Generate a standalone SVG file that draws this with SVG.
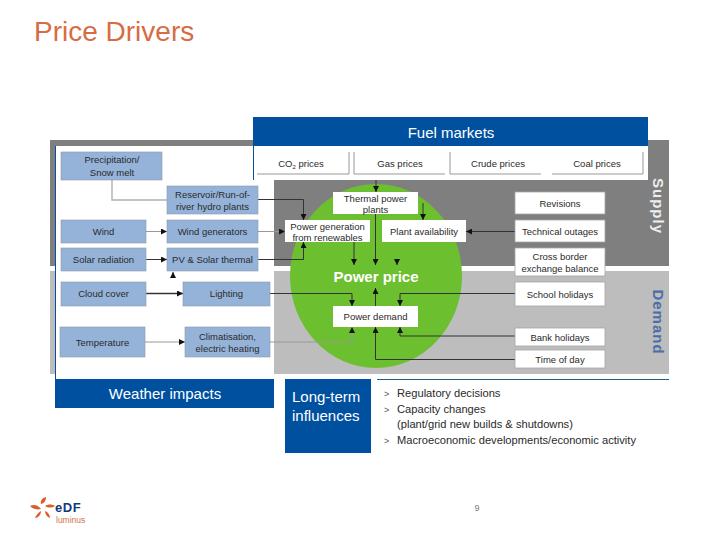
<svg xmlns="http://www.w3.org/2000/svg" width="720" height="540" viewBox="0 0 720 540">
<style>
text{font-family:"Liberation Sans",Arial,sans-serif;fill:#2a2a2a;font-size:9.5px;text-anchor:middle}
.b{fill:#95b3d9;stroke:#8c9aa8;stroke-width:.6}
.w{fill:#fff;stroke:#a6a6a6;stroke-width:.8}
.p{fill:#fff}
.c{fill:none;stroke:#333;stroke-width:1}
.g{fill:none;stroke:#b0b0b0;stroke-width:1.4}
.e{fill:none;stroke:#999;stroke-width:1}
.hd{fill:#fff;font-size:15px}
.li{font-size:11.15px;text-anchor:start}
.ch{font-size:9px;text-anchor:start;fill:#555}
</style>
<defs>
<marker id="a" markerUnits="userSpaceOnUse" markerWidth="6" markerHeight="6" refX="6" refY="3" orient="auto"><path d="M0 0L6 3L0 6z" fill="#111"/></marker>
</defs>
<rect width="720" height="540" fill="#fff"/>
<text id="title" x="34" y="41" style="font-size:28px;text-anchor:start;fill:#d76c44">Price Drivers</text>
<g id="backdrop">
<rect x="50" y="140" width="619" height="126" fill="#7f7f7f"/>
<rect x="50" y="271" width="619" height="103" fill="#bdbdbd"/>
<rect x="55" y="146" width="219" height="233" fill="#fff"/>
<rect x="55" y="146" width="1" height="233" fill="#0a4f9e"/>
<rect x="253" y="146" width="395" height="34" fill="#fff"/>
<rect x="253" y="146" width="1" height="34" fill="#0a4f9e"/>
<ellipse cx="376" cy="276" rx="86" ry="92" fill="#6cc02f"/>
</g>
<g id="connectors">
<path class="g" d="M112 180V200H167"/>
<path class="c" d="M258 199.500H303.500V220" marker-end="url(#a)"/>
<path class="e" d="M146 231.500H167" marker-end="url(#a)"/>
<path class="e" d="M258 231.500H285" marker-end="url(#a)"/>
<path class="c" d="M146 259.500H167" marker-end="url(#a)"/>
<path class="c" d="M258 259.500H303.500V242" marker-end="url(#a)"/>
<path class="c" d="M173 277V272" marker-end="url(#a)"/>
<path class="c" style="stroke-width:1.4" d="M146 293.500H183" marker-end="url(#a)"/>
<path class="c" d="M270 293.500H352V306" marker-end="url(#a)"/>
<path class="e" d="M145 342H185" marker-end="url(#a)"/>
<path class="e" d="M270 342H352V327" marker-end="url(#a)"/>
<path class="c" d="M376 180V192" marker-end="url(#a)"/>
<path class="c" d="M354 242V265" marker-end="url(#a)"/>
<path class="c" d="M375.500 214V265" marker-end="url(#a)"/>
<path class="c" d="M397 259V265" marker-end="url(#a)"/>
<path class="c" d="M423 203V220" marker-end="url(#a)"/>
<path class="c" d="M515 231.500H466" marker-end="url(#a)"/>
<path class="c" d="M375.500 306V288" marker-end="url(#a)"/>
<path class="c" d="M515 359.500H375.500V327" marker-end="url(#a)"/>
<path class="c" d="M515 293.500H400V306" marker-end="url(#a)"/>
<path class="c" d="M515 336H400V327" marker-end="url(#a)"/>
</g>
<g id="fuel-markets"><rect x="253" y="117" width="395" height="29" fill="#0050a0"/><text class="hd" x="451" y="138">Fuel markets</text></g>
<g id="co2"><rect class="p" x="257" y="152" width="92" height="22"/><path class="e" d="M257 174H349V152"/><text x="301" y="167">CO<tspan font-size="6" dy="2">2</tspan><tspan dy="-2"> prices</tspan></text></g>
<g id="gas"><rect class="p" x="354" y="152" width="91" height="22"/><path class="e" d="M354 152V174H445"/><text x="400" y="167">Gas prices</text></g>
<g id="crude"><rect class="p" x="450" y="152" width="91" height="22"/><path class="e" d="M450 152V174H541"/><text x="498" y="167">Crude prices</text></g>
<g id="coal"><rect class="p" x="552" y="152" width="91" height="22"/><path class="e" d="M552 174H643V152"/><text x="597" y="167">Coal prices</text></g>
<g id="precipitation"><rect class="b" x="61" y="152" width="101" height="28"/><text x="112" y="163">Precipitation/</text><text x="112" y="176">Snow melt</text></g>
<g id="reservoir"><rect class="b" x="167" y="186" width="91" height="28"/><text x="212.500" y="198">Reservoir/Run-of-</text><text x="212.500" y="210">river hydro plants</text></g>
<g id="wind"><rect class="b" x="61" y="220" width="85" height="23"/><text x="103.500" y="235">Wind</text></g>
<g id="wind-generators"><rect class="b" x="167" y="220" width="91" height="23"/><text x="212.500" y="235">Wind generators</text></g>
<g id="solar"><rect class="b" x="61" y="248" width="85" height="23"/><text x="103.500" y="263">Solar radiation</text></g>
<g id="pv"><rect class="b" x="167" y="248" width="91" height="23"/><text x="212.500" y="263">PV &amp; Solar thermal</text></g>
<g id="cloud"><rect class="b" x="61" y="282" width="85" height="24"/><text x="103.500" y="297">Cloud cover</text></g>
<g id="lighting"><rect class="b" x="183" y="282" width="87" height="24"/><text x="226.500" y="297">Lighting</text></g>
<g id="temperature"><rect class="b" x="60" y="327" width="85" height="30"/><text x="102.500" y="345.500">Temperature</text></g>
<g id="climatisation"><rect class="b" x="185" y="327" width="85" height="30"/><text x="227.500" y="340">Climatisation,</text><text x="227.500" y="352">electric heating</text></g>
<g id="thermal"><rect class="p" x="333" y="192" width="85" height="22"/><text x="375.500" y="201.500">Thermal power</text><text x="375.500" y="212.500">plants</text></g>
<g id="generation"><rect class="p" x="285" y="220" width="85" height="22"/><text x="327.500" y="229.500">Power generation</text><text x="327.500" y="241">from renewables</text></g>
<g id="availability"><rect class="p" x="382" y="220" width="84" height="22"/><text x="424" y="235">Plant availability</text></g>
<g id="revisions"><rect class="w" x="515" y="192" width="90" height="22"/><text x="560" y="206.500">Revisions</text></g>
<g id="outages"><rect class="w" x="515" y="220" width="90" height="22"/><text x="560" y="235">Technical outages</text></g>
<g id="cross-border"><rect class="w" x="515" y="248" width="90" height="28"/><text x="560" y="260">Cross border</text><text x="560" y="272">exchange balance</text></g>
<g id="school"><rect class="w" x="515" y="282" width="90" height="24"/><text x="560" y="298">School holidays</text></g>
<g id="bank"><rect class="w" x="515" y="328" width="90" height="18"/><text x="560" y="340.500">Bank holidays</text></g>
<g id="time"><rect class="w" x="515" y="350" width="90" height="18"/><text x="560" y="363">Time of day</text></g>
<g id="demand-node"><rect class="p" x="333" y="306" width="85" height="21"/><text x="375.500" y="320">Power demand</text></g>
<text id="power-price" x="376" y="282" style="fill:#fff;font-size:15px;font-weight:bold">Power price</text>
<text id="supply" transform="translate(653 206) rotate(90)" style="fill:#eee;font-size:15px;font-weight:bold;letter-spacing:1px">Supply</text>
<text id="demand" transform="translate(653 322) rotate(90)" style="fill:#4a6ea8;font-size:15px;font-weight:bold;letter-spacing:1px">Demand</text>
<g id="weather"><rect x="55" y="379" width="219" height="29" fill="#0050a0"/><text class="hd" x="165" y="399">Weather impacts</text></g>
<g id="long-term"><rect x="285" y="379" width="86" height="74" fill="#0050a0"/><text class="hd" style="text-anchor:start" x="292" y="402">Long-term</text><text class="hd" style="text-anchor:start" x="292" y="421">influences</text></g>
<g id="influences">
<rect x="377" y="379" width="292" height="1" fill="#1f5f86"/>
<text class="ch" x="384" y="397">&gt;</text><text class="li" x="397" y="397">Regulatory decisions</text>
<text class="ch" x="384" y="413">&gt;</text><text class="li" x="397" y="413">Capacity changes</text>
<text class="li" x="397" y="428">(plant/grid new builds &amp; shutdowns)</text>
<text class="ch" x="384" y="444">&gt;</text><text class="li" x="397" y="444">Macroeconomic developments/economic activity</text>
</g>
<text id="page" x="477" y="511" style="fill:#777;font-size:9px">9</text>
<g id="logo">
<g fill="#dc5f2a">
<path d="M30 506C34 504 38 505 41 509C36 510 33 509 30 506z"/>
<path d="M41 504C40 501 42 498 46 497C46 500 45 503 41 504z"/>
<path d="M45 506C48 504 52 504 55 506C52 508 48 508 45 506z"/>
<path d="M41 511C38 513 36 515 35 518C38 518 41 515 41 511z"/>
<path d="M45 511C45 514 47 517 50 518C50 515 48 512 45 511z"/>
</g>
<text x="55" y="511.500" style="fill:#0f3b7a;font-size:13px;font-weight:bold;text-anchor:start;letter-spacing:.6px">eDF</text>
<text x="56" y="523" style="fill:#d0744a;font-size:8.500px;text-anchor:start">luminus</text>
</g>
</svg>
